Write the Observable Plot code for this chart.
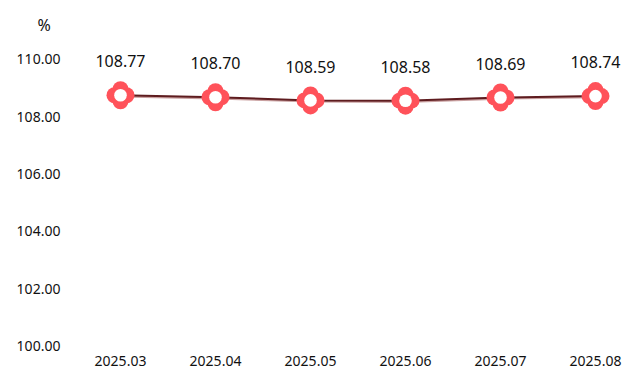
<!DOCTYPE html>
<html>
<head>
<meta charset="utf-8">
<script src="https://cdn.jsdelivr.net/npm/d3@7"></script>
<script src="https://cdn.jsdelivr.net/npm/@observablehq/plot@0.6"></script>
<style>
  html, body { margin: 0; padding: 0; background: #fff; }
  #chart svg { display: block; }
</style>
</head>
<body>
<div id="chart"></div>
<script>
const months = ["2025.03", "2025.04", "2025.05", "2025.06", "2025.07", "2025.08"];
const values = [108.77, 108.70, 108.59, 108.58, 108.69, 108.74];
const yTicks = [100, 102, 104, 106, 108, 110];
const unitLabel = "%";

const data = months.map((m, i) => ({month: m, value: values[i]}));
const font = "'Noto Sans', 'Liberation Sans', sans-serif";
const red = "#ff525a";
const lobes = [[-6, 0], [6, 0], [0, -6], [0, 6]];

const plot = Plot.plot({
  width: 642,
  height: 384,
  marginLeft: 119,
  marginRight: 46,
  marginTop: 59.5,
  marginBottom: 38,
  style: {fontFamily: font, background: "#fff"},
  x: {type: "point", domain: months, padding: 0, label: null},
  y: {domain: [100, 110], label: null},
  marks: [
    Plot.axisY(yTicks, {tickSize: 0, tickPadding: 81, textAnchor: "middle", tickFormat: d => d.toFixed(2), fontSize: 14, fill: "#111"}),
    Plot.axisX({tickSize: 0, tickPadding: 10, fontSize: 14, fill: "#111"}),
    Plot.text([unitLabel], {frameAnchor: "top-left", dx: -82, dy: -40, fontSize: 16, fill: "#111"}),
    Plot.line(data, {x: "month", y: "value", stroke: "#c9a0a0", strokeWidth: 2, dy: 1.2}),
    Plot.line(data, {x: "month", y: "value", stroke: "#5e1c1f", strokeWidth: 2}),
    ...lobes.map(([dx, dy]) => Plot.dot(data, {x: "month", y: "value", r: 8, fill: red, dx, dy})),
    Plot.dot(data, {x: "month", y: "value", r: 8, fill: red}),
    Plot.dot(data, {x: "month", y: "value", r: 6.3, fill: "#fff"}),
    Plot.text(data, {x: "month", y: "value", text: d => d.value.toFixed(2), dy: -33, fontSize: 16, fill: "#111"})
  ]
});
document.getElementById("chart").appendChild(plot);
</script>
</body>
</html>
